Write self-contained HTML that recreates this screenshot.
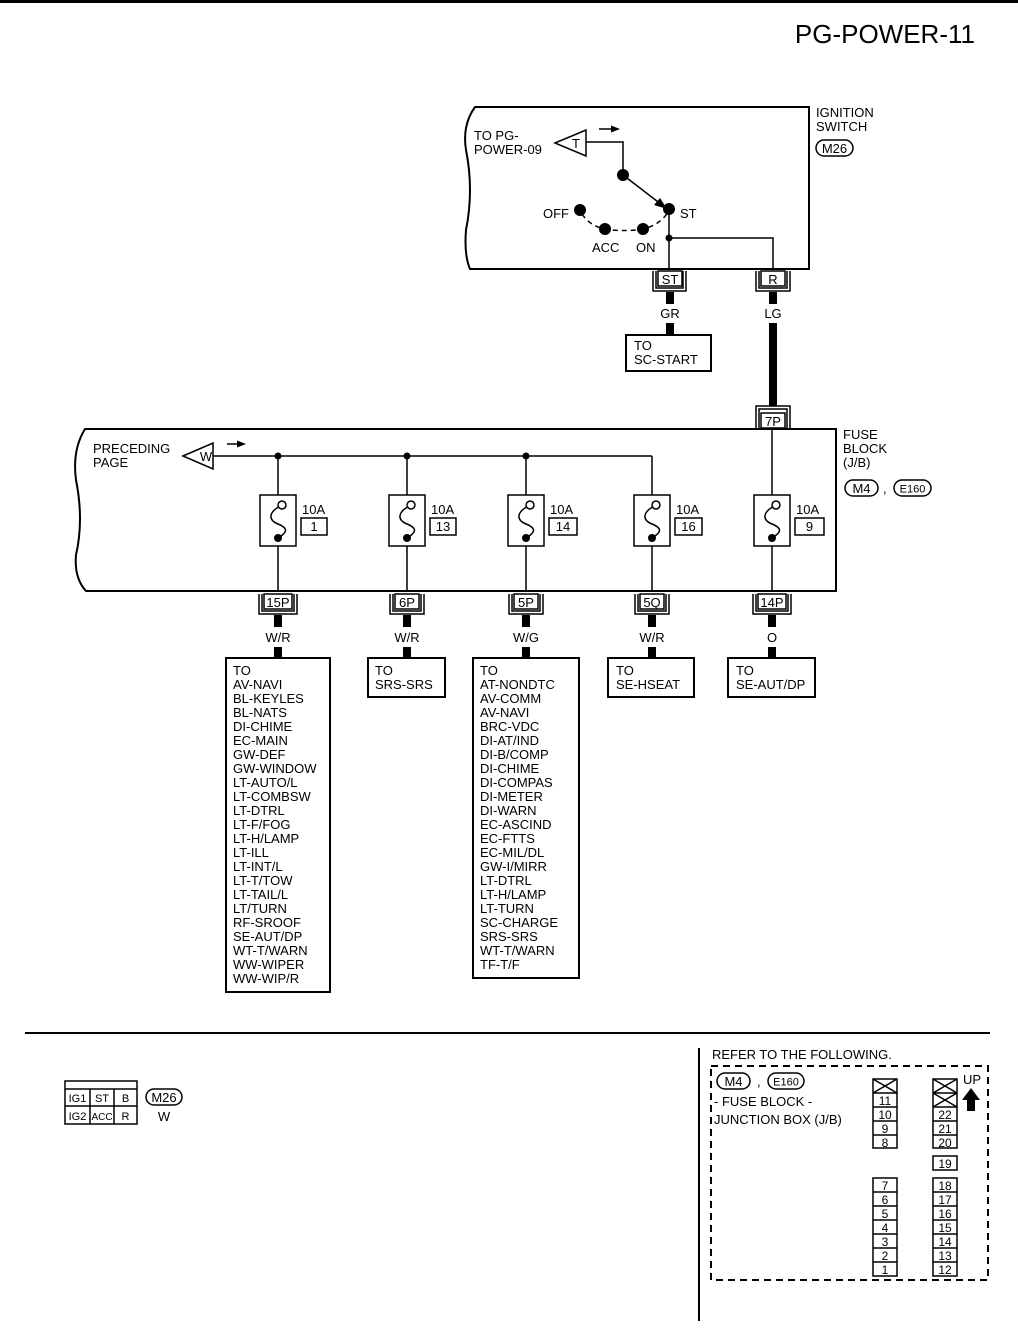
<!DOCTYPE html>
<html><head><meta charset="utf-8"><style>
html,body{margin:0;padding:0;background:#fff}
svg{display:block}
text{font-family:"Liberation Sans",Arial,sans-serif;font-size:13px;fill:#000}
</style></head><body>
<svg width="1018" height="1328" viewBox="0 0 1018 1328" xmlns="http://www.w3.org/2000/svg">
<line x1="0" y1="1.5" x2="1018" y2="1.5" stroke="#000" stroke-width="3"/>
<text x="975" y="43" text-anchor="end" style="font-size:26px">PG-POWER-11</text>

<!-- Ignition switch box -->
<path d="M809,107 L475,107 Q462,125 466,150 Q474,190 466,230 Q464,255 470,269 L809,269 Z" fill="none" stroke="#000" stroke-width="2"/>
<text x="816" y="117">IGNITION</text><text x="816" y="131">SWITCH</text>
<rect x="816" y="140" width="37" height="16" rx="8" fill="none" stroke="#000" stroke-width="1.5"/>
<text x="834.5" y="153" text-anchor="middle">M26</text>
<text x="474" y="140">TO PG-</text><text x="474" y="154">POWER-09</text>
<polygon points="555,143 586,130 586,156" fill="#fff" stroke="#000" stroke-width="1.5"/>
<text x="576" y="148" text-anchor="middle">T</text>
<path d="M586,142 L623,142 L623,175" fill="none" stroke="#000" stroke-width="1.5"/>
<line x1="599" y1="129" x2="612" y2="129" stroke="#000" stroke-width="1.5"/><polygon points="620,129 611,125.5 611,132.5"/>
<circle cx="623" cy="175" r="6"/>
<line x1="623" y1="175" x2="662" y2="205" stroke="#000" stroke-width="1.5"/>
<polygon points="667,209 654,205 660,198"/>
<path d="M582,214 Q590,226 605,229 Q625,232 643,229 Q660,225 669,211" fill="none" stroke="#000" stroke-width="1.5" stroke-dasharray="5,4"/>
<circle cx="580" cy="210" r="6"/><circle cx="605" cy="229" r="6"/><circle cx="643" cy="229" r="6"/><circle cx="669" cy="209" r="6"/>
<text x="543" y="218">OFF</text><text x="680" y="218">ST</text><text x="592" y="252">ACC</text><text x="636" y="252">ON</text>
<path d="M669,209 L669,269 M669,238 L773,238 L773,269" fill="none" stroke="#000" stroke-width="1.5"/>
<circle cx="669" cy="238" r="3.5"/>
<!-- ST / R connectors -->
<g fill="none" stroke="#000" stroke-width="1.5">
<rect x="658" y="271" width="24" height="15" fill="#fff"/>
<path d="M653,271 V291 H686 V271 M656,271 V288 H683 V271"/>
<rect x="761" y="271" width="24" height="15" fill="#fff"/>
<path d="M756,271 V291 H790 V271 M759,271 V288 H787 V271"/>
</g>
<text x="670" y="284" text-anchor="middle">ST</text><text x="773" y="284" text-anchor="middle">R</text>
<rect x="666" y="292" width="8" height="12"/><rect x="666" y="323" width="8" height="12"/>
<text x="670" y="318" text-anchor="middle">GR</text>
<rect x="626" y="335" width="85" height="36" fill="none" stroke="#000" stroke-width="2"/>
<text x="634" y="350">TO</text><text x="634" y="364">SC-START</text>
<rect x="769" y="292" width="8" height="12"/><rect x="769" y="323" width="8" height="83"/>
<text x="773" y="318" text-anchor="middle">LG</text>
<g fill="none" stroke="#000" stroke-width="1.5">
<rect x="761" y="413" width="24" height="15" fill="#fff"/>
<path d="M756,428 V406 H790 V428 M759,428 V409 H787 V428"/>
</g>
<text x="773" y="426" text-anchor="middle">7P</text>

<!-- Fuse block -->
<path d="M836,429 L85,429 Q72,450 76,480 Q84,520 76,555 Q74,578 86,591 L836,591 Z" fill="none" stroke="#000" stroke-width="2"/>
<text x="843" y="439">FUSE</text><text x="843" y="453">BLOCK</text><text x="843" y="467">(J/B)</text>
<rect x="845" y="480" width="33" height="16" rx="8" fill="none" stroke="#000" stroke-width="1.5"/>
<text x="861.5" y="493" text-anchor="middle">M4</text>
<text x="883" y="493">,</text>
<rect x="894" y="480" width="37" height="16" rx="8" fill="none" stroke="#000" stroke-width="1.5"/>
<text x="912.5" y="492.5" text-anchor="middle" style="font-size:11px">E160</text>
<text x="93" y="453">PRECEDING</text><text x="93" y="467">PAGE</text>
<polygon points="183,456 213,443 213,469" fill="#fff" stroke="#000" stroke-width="1.5"/>
<text x="206" y="461" text-anchor="middle">W</text>
<line x1="227" y1="444" x2="238" y2="444" stroke="#000" stroke-width="1.5"/><polygon points="246,444 237,440.5 237,447.5"/>
<line x1="213" y1="456" x2="652" y2="456" stroke="#000" stroke-width="1.5"/>
<circle cx="278" cy="456" r="3.5"/><circle cx="407" cy="456" r="3.5"/><circle cx="526" cy="456" r="3.5"/>

<g id="fuses" fill="none" stroke="#000" stroke-width="1.5">
<path d="M278,456V495 M278,546V591 M407,456V495 M407,546V591 M526,456V495 M526,546V591 M652,456V495 M652,546V591 M772,429V495 M772,546V591"/>
<rect x="260" y="495" width="36" height="51"/><rect x="389" y="495" width="36" height="51"/><rect x="508" y="495" width="36" height="51"/><rect x="634" y="495" width="36" height="51"/><rect x="754" y="495" width="36" height="51"/>
<path d="M282,505 C268,512 268,520 278,524 C288,528 288,532 278,538"/>
<path d="M411,505 C397,512 397,520 407,524 C417,528 417,532 407,538"/>
<path d="M530,505 C516,512 516,520 526,524 C536,528 536,532 526,538"/>
<path d="M656,505 C642,512 642,520 652,524 C662,528 662,532 652,538"/>
<path d="M776,505 C762,512 762,520 772,524 C782,528 782,532 772,538"/>
<circle cx="282" cy="505" r="4" fill="#fff"/><circle cx="411" cy="505" r="4" fill="#fff"/><circle cx="530" cy="505" r="4" fill="#fff"/><circle cx="656" cy="505" r="4" fill="#fff"/><circle cx="776" cy="505" r="4" fill="#fff"/>
<rect x="301" y="518" width="26" height="17"/><rect x="430" y="518" width="26" height="17"/><rect x="549" y="518" width="28" height="17"/><rect x="675" y="518" width="27" height="17"/><rect x="795" y="518" width="29" height="17"/>
</g>
<circle cx="278" cy="538" r="4"/><circle cx="407" cy="538" r="4"/><circle cx="526" cy="538" r="4"/><circle cx="652" cy="538" r="4"/><circle cx="772" cy="538" r="4"/>
<text x="302" y="514">10A</text><text x="431" y="514">10A</text><text x="550" y="514">10A</text><text x="676" y="514">10A</text><text x="796" y="514">10A</text>
<text x="314" y="531" text-anchor="middle">1</text><text x="443" y="531" text-anchor="middle">13</text><text x="563" y="531" text-anchor="middle">14</text><text x="688.5" y="531" text-anchor="middle">16</text><text x="809.5" y="531" text-anchor="middle">9</text>

<!-- bottom connectors -->
<g fill="none" stroke="#000" stroke-width="1.5">
<rect x="264" y="594" width="28" height="15" fill="#fff"/><path d="M259,594 V614 H297 V594 M262,594 V611 H294 V594"/>
<rect x="395" y="594" width="24" height="15" fill="#fff"/><path d="M390,594 V614 H424 V594 M393,594 V611 H421 V594"/>
<rect x="514" y="594" width="24" height="15" fill="#fff"/><path d="M509,594 V614 H543 V594 M512,594 V611 H540 V594"/>
<rect x="640" y="594" width="24" height="15" fill="#fff"/><path d="M635,594 V614 H669 V594 M638,594 V611 H666 V594"/>
<rect x="758" y="594" width="28" height="15" fill="#fff"/><path d="M753,594 V614 H791 V594 M756,594 V611 H788 V594"/>
</g>
<text x="278" y="607" text-anchor="middle">15P</text><text x="407" y="607" text-anchor="middle">6P</text><text x="526" y="607" text-anchor="middle">5P</text><text x="652" y="607" text-anchor="middle">5Q</text><text x="772" y="607" text-anchor="middle">14P</text>
<rect x="274" y="615" width="8" height="12"/><rect x="274" y="647" width="8" height="12"/>
<rect x="403" y="615" width="8" height="12"/><rect x="403" y="647" width="8" height="12"/>
<rect x="522" y="615" width="8" height="12"/><rect x="522" y="647" width="8" height="12"/>
<rect x="648" y="615" width="8" height="12"/><rect x="648" y="647" width="8" height="12"/>
<rect x="768" y="615" width="8" height="12"/><rect x="768" y="647" width="8" height="12"/>
<text x="278" y="642" text-anchor="middle">W/R</text><text x="407" y="642" text-anchor="middle">W/R</text><text x="526" y="642" text-anchor="middle">W/G</text><text x="652" y="642" text-anchor="middle">W/R</text><text x="772" y="642" text-anchor="middle">O</text>

<g fill="none" stroke="#000" stroke-width="2">
<rect x="226" y="658" width="104" height="334"/>
<rect x="368" y="658" width="77" height="39"/>
<rect x="473" y="658" width="106" height="320"/>
<rect x="608" y="658" width="86" height="39"/>
<rect x="728" y="658" width="87" height="39"/>
</g>
<text x="375" y="675">TO</text><text x="375" y="689">SRS-SRS</text>
<text x="616" y="675">TO</text><text x="616" y="689">SE-HSEAT</text>
<text x="736" y="675">TO</text><text x="736" y="689">SE-AUT/DP</text>
<text x="233" y="675">TO</text><text x="233" y="689">AV-NAVI</text><text x="233" y="703">BL-KEYLES</text><text x="233" y="717">BL-NATS</text><text x="233" y="731">DI-CHIME</text><text x="233" y="745">EC-MAIN</text><text x="233" y="759">GW-DEF</text><text x="233" y="773">GW-WINDOW</text><text x="233" y="787">LT-AUTO/L</text><text x="233" y="801">LT-COMBSW</text><text x="233" y="815">LT-DTRL</text><text x="233" y="829">LT-F/FOG</text><text x="233" y="843">LT-H/LAMP</text><text x="233" y="857">LT-ILL</text><text x="233" y="871">LT-INT/L</text><text x="233" y="885">LT-T/TOW</text><text x="233" y="899">LT-TAIL/L</text><text x="233" y="913">LT/TURN</text><text x="233" y="927">RF-SROOF</text><text x="233" y="941">SE-AUT/DP</text><text x="233" y="955">WT-T/WARN</text><text x="233" y="969">WW-WIPER</text><text x="233" y="983">WW-WIP/R</text>
<text x="480" y="675">TO</text><text x="480" y="689">AT-NONDTC</text><text x="480" y="703">AV-COMM</text><text x="480" y="717">AV-NAVI</text><text x="480" y="731">BRC-VDC</text><text x="480" y="745">DI-AT/IND</text><text x="480" y="759">DI-B/COMP</text><text x="480" y="773">DI-CHIME</text><text x="480" y="787">DI-COMPAS</text><text x="480" y="801">DI-METER</text><text x="480" y="815">DI-WARN</text><text x="480" y="829">EC-ASCIND</text><text x="480" y="843">EC-FTTS</text><text x="480" y="857">EC-MIL/DL</text><text x="480" y="871">GW-I/MIRR</text><text x="480" y="885">LT-DTRL</text><text x="480" y="899">LT-H/LAMP</text><text x="480" y="913">LT-TURN</text><text x="480" y="927">SC-CHARGE</text><text x="480" y="941">SRS-SRS</text><text x="480" y="955">WT-T/WARN</text><text x="480" y="969">TF-T/F</text>

<!-- bottom section -->
<line x1="25" y1="1033" x2="990" y2="1033" stroke="#000" stroke-width="2"/>
<line x1="699" y1="1048" x2="699" y2="1321" stroke="#000" stroke-width="2"/>
<g fill="none" stroke="#000" stroke-width="1.5">
<rect x="65" y="1081" width="72" height="43"/>
<path d="M65,1089 H137 M65,1106 H137 M90,1089 V1124 M114,1089 V1124"/>
<rect x="146" y="1089" width="36" height="16" rx="8"/>
</g>
<text x="77.5" y="1102" text-anchor="middle" style="font-size:11px">IG1</text><text x="102" y="1102" text-anchor="middle" style="font-size:11px">ST</text><text x="125.5" y="1102" text-anchor="middle" style="font-size:11px">B</text>
<text x="77.5" y="1120" text-anchor="middle" style="font-size:11px">IG2</text><text x="102" y="1120" text-anchor="middle" style="font-size:10px">ACC</text><text x="125.5" y="1120" text-anchor="middle" style="font-size:11px">R</text>
<text x="164" y="1102" text-anchor="middle">M26</text><text x="164" y="1121" text-anchor="middle">W</text>

<text x="712" y="1059">REFER TO THE FOLLOWING.</text>
<rect x="711" y="1066" width="277" height="214" fill="none" stroke="#000" stroke-width="2" stroke-dasharray="7,5"/>
<rect x="717" y="1073" width="33" height="16" rx="8" fill="none" stroke="#000" stroke-width="1.5"/>
<text x="733.5" y="1086" text-anchor="middle">M4</text><text x="757" y="1086">,</text>
<rect x="768" y="1073" width="36" height="16" rx="8" fill="none" stroke="#000" stroke-width="1.5"/>
<text x="786" y="1085.5" text-anchor="middle" style="font-size:11px">E160</text>
<text x="714" y="1106">- FUSE BLOCK -</text><text x="714" y="1124">JUNCTION BOX (J/B)</text>
<g fill="none" stroke="#000" stroke-width="1.5">
<rect x="873" y="1079" width="24" height="69"/>
<path d="M873,1093H897 M873,1107H897 M873,1121H897 M873,1135H897 M873,1079L897,1093 M897,1079L873,1093"/>
<rect x="933" y="1079" width="24" height="69"/>
<path d="M933,1093H957 M933,1107H957 M933,1121H957 M933,1135H957 M933,1079L957,1093 M957,1079L933,1093 M933,1093L957,1107 M957,1093L933,1107"/>
<rect x="933" y="1156" width="24" height="14"/>
<rect x="873" y="1178" width="24" height="98"/>
<path d="M873,1192H897 M873,1206H897 M873,1220H897 M873,1234H897 M873,1248H897 M873,1262H897"/>
<rect x="933" y="1178" width="24" height="98"/>
<path d="M933,1192H957 M933,1206H957 M933,1220H957 M933,1234H957 M933,1248H957 M933,1262H957"/>
</g>
<g style="font-size:12px" text-anchor="middle">
<text x="885" y="1105" style="font-size:12px">11</text><text x="885" y="1119" style="font-size:12px">10</text><text x="885" y="1133" style="font-size:12px">9</text><text x="885" y="1147" style="font-size:12px">8</text>
<text x="945" y="1119" style="font-size:12px">22</text><text x="945" y="1133" style="font-size:12px">21</text><text x="945" y="1147" style="font-size:12px">20</text><text x="945" y="1168" style="font-size:12px">19</text>
<text x="885" y="1190" style="font-size:12px">7</text><text x="885" y="1204" style="font-size:12px">6</text><text x="885" y="1218" style="font-size:12px">5</text><text x="885" y="1232" style="font-size:12px">4</text><text x="885" y="1246" style="font-size:12px">3</text><text x="885" y="1260" style="font-size:12px">2</text><text x="885" y="1274" style="font-size:12px">1</text>
<text x="945" y="1190" style="font-size:12px">18</text><text x="945" y="1204" style="font-size:12px">17</text><text x="945" y="1218" style="font-size:12px">16</text><text x="945" y="1232" style="font-size:12px">15</text><text x="945" y="1246" style="font-size:12px">14</text><text x="945" y="1260" style="font-size:12px">13</text><text x="945" y="1274" style="font-size:12px">12</text>
</g>
<text x="963" y="1084">UP</text>
<polygon points="971,1088 980,1100 975,1100 975,1111 967,1111 967,1100 962,1100"/>
</svg>
</body></html>
